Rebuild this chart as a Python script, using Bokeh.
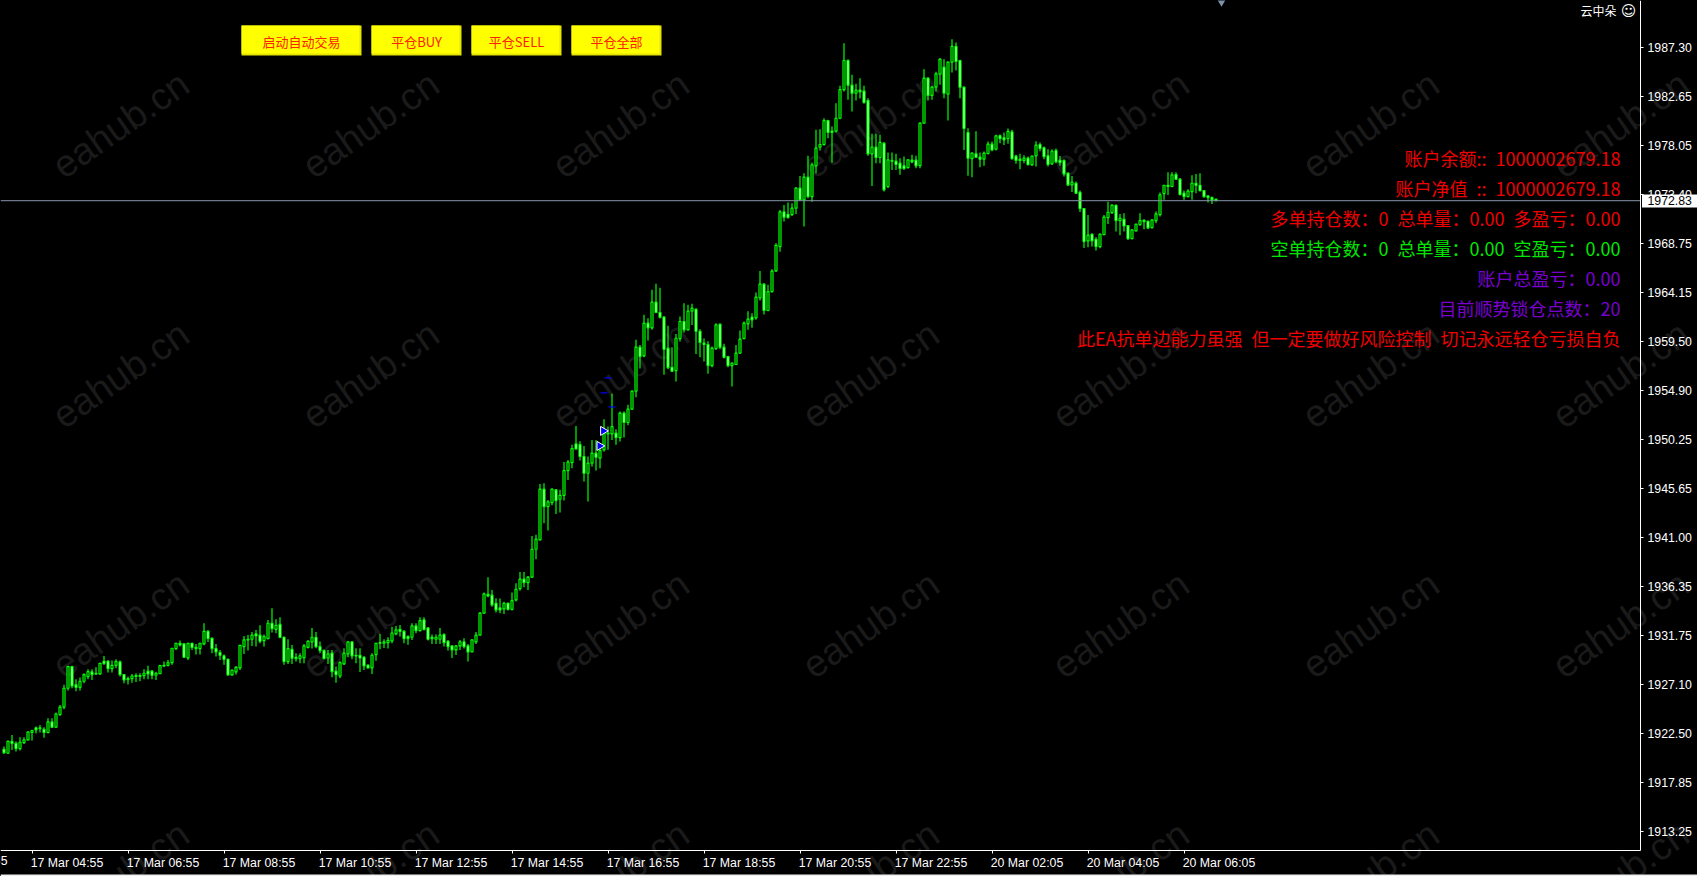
import math
from bokeh.plotting import figure
from bokeh.embed import file_html
from bokeh.resources import INLINE
from bokeh.models import (FixedTicker, Label, BoxAnnotation, ColumnDataSource,
                          NumeralTickFormatter, GlobalInlineStyleSheet)

highs = [
1921.27,1921.84,1922.37,1921.74,1922.15,1922.15,1922.75,1922.85,1923.16,1923.3,
1923.1,1923.94,1923.94,1924.48,1925.2,1927.1,1928.9,1928.9,1927.63,1927.8,
1928.2,1928.57,1928.57,1928.76,1929.2,1929.83,1929.46,1929.4,1929.52,1929.4,
1928.13,1927.88,1928.13,1928.2,1928.2,1928.57,1928.9,1928.51,1928.35,1929.01,
1929.3,1929.46,1930.59,1931.09,1931.28,1931.03,1931.09,1931.09,1930.97,1931.09,
1932.92,1932.29,1931.6,1930.97,1930.4,1929.96,1929.58,1928.57,1928.89,1930.9,
1931.72,1931.82,1932.1,1932.29,1932.73,1931.85,1933.23,1934.34,1933.3,1933.49,
1931.66,1931.41,1930.87,1930.09,1930.09,1930.97,1931.35,1932.48,1932.1,1931.19,
1930.46,1930.4,1930.4,1928.83,1929.33,1930.56,1931.22,1931.22,1930.56,1930.56,
1929.83,1929.08,1930.09,1931.09,1931.91,1931.41,1931.6,1932.6,1932.67,1932.76,
1932.29,1931.79,1932.92,1932.92,1933.49,1933.49,1932.54,1931.85,1931.85,1932.48,
1931.98,1931.35,1930.84,1930.87,1931.35,1931.5,1930.97,1931.41,1932.1,1933.99,
1935.82,1937.27,1936.07,1935.28,1935.25,1934.94,1934.87,1935.82,1936.7,1937.77,
1937.77,1937.39,1941.17,1941.27,1946.08,1946.15,1944.57,1945.64,1945.58,1945.52,
1948.16,1948.35,1949.77,1951.56,1950.11,1949.67,1948.67,1950.24,1950.24,1949.92,
1952.2,1951.5,1954.59,1951.25,1952.92,1952.92,1953.55,1954.9,1959.69,1959.21,
1962.05,1961.73,1964.41,1964.98,1964.6,1961.95,1961.01,1958.99,1960.25,1961.89,
1963.15,1963.0,1963.09,1962.68,1960.69,1959.81,1959.56,1959.06,1961.26,1961.2,
1959.31,1958.18,1957.55,1959.21,1960.57,1961.42,1962.4,1962.2,1964.16,1966.2,
1965.04,1964.88,1966.36,1968.81,1971.96,1972.43,1972.65,1972.59,1974.1,1975.17,
1975.43,1977.07,1976.44,1979.52,1979.59,1980.62,1980.47,1979.84,1982.04,1983.68,
1987.71,1986.2,1984.72,1983.87,1984.4,1983.68,1982.51,1979.15,1979.15,1979.05,
1978.33,1977.38,1977.38,1977.26,1976.85,1977.0,1976.75,1977.16,1977.07,1980.22,
1985.25,1984.5,1983.68,1985.0,1986.29,1986.2,1985.98,1988.09,1987.77,1986.14,
1983.62,1979.68,1977.38,1979.4,1977.38,1977.48,1978.42,1978.42,1979.05,1979.08,
1979.27,1979.65,1979.52,1977.16,1977.26,1977.13,1977.0,1977.07,1978.45,1978.33,
1977.95,1977.7,1977.7,1977.76,1977.06,1976.75,1975.49,1975.17,1974.64,1973.79,
1972.15,1971.49,1969.76,1969.38,1969.76,1971.49,1972.72,1972.53,1972.47,1971.58,
1971.65,1970.54,1970.14,1970.64,1971.65,1971.02,1970.95,1971.08,1971.8,1973.6,
1974.32,1975.52,1975.52,1975.52,1974.95,1973.79,1973.91,1975.24,1975.36,1975.43,
1973.85,1973.35,1973.22,1973.0]

lows = [
1920.58,1920.58,1920.95,1920.8,1920.89,1921.52,1921.84,1921.84,1922.5,1922.6,
1922.1,1922.5,1923.03,1923.03,1924.16,1924.8,1926.56,1926.78,1926.5,1926.56,
1927.25,1927.63,1927.57,1928.04,1928.04,1928.98,1928.26,1928.26,1928.67,1927.88,
1927.25,1927.13,1927.3,1927.38,1927.44,1927.63,1927.63,1927.63,1927.57,1928.13,
1928.76,1928.83,1929.01,1930.4,1930.72,1929.65,1929.46,1930.4,1929.96,1929.96,
1930.84,1931.16,1930.09,1929.77,1929.46,1929.01,1927.95,1927.95,1928.07,1928.51,
1930.02,1930.34,1930.78,1930.72,1931.03,1930.72,1931.41,1932.04,1931.98,1931.5,
1929.01,1929.08,1929.08,1929.3,1929.14,1929.14,1930.53,1930.53,1930.56,1930.09,
1929.52,1929.08,1927.82,1927.31,1927.72,1928.98,1929.71,1929.52,1929.14,1928.32,
1928.51,1928.64,1928.13,1929.39,1930.46,1930.59,1930.53,1931.03,1931.79,1931.66,
1931.03,1930.9,1931.35,1931.98,1932.13,1932.23,1931.28,1930.97,1930.97,1930.97,
1930.72,1930.34,1929.65,1929.93,1930.4,1930.53,1929.3,1930.21,1930.97,1931.79,
1933.8,1935.38,1934.49,1933.93,1933.86,1933.8,1934.12,1934.12,1934.97,1936.0,
1936.32,1936.07,1937.2,1938.97,1940.73,1942.37,1941.67,1944.07,1943.25,1943.37,
1944.51,1946.46,1947.56,1949.3,1948.29,1946.3,1944.41,1947.72,1947.34,1947.56,
1949.14,1949.3,1950.24,1949.77,1950.08,1950.46,1951.63,1953.07,1954.27,1956.98,
1958.05,1959.62,1960.63,1962.2,1961.7,1956.38,1956.92,1956.66,1955.75,1959.53,
1960.38,1960.57,1961.1,1958.36,1958.05,1957.64,1956.48,1957.1,1958.74,1958.8,
1957.92,1957.1,1955.28,1957.33,1958.36,1959.75,1960.63,1960.82,1961.58,1963.4,
1962.08,1962.4,1964.15,1966.1,1968.0,1970.86,1971.14,1971.39,1971.58,1972.84,
1970.39,1973.07,1972.72,1975.43,1977.57,1978.01,1978.74,1976.44,1979.27,1980.53,
1983.14,1982.36,1981.25,1982.29,1982.48,1981.98,1977.07,1974.23,1976.37,1976.37,
1973.7,1974.01,1975.74,1975.74,1975.27,1975.74,1975.87,1976.37,1975.9,1975.9,
1980.09,1982.29,1982.36,1983.14,1983.77,1982.51,1980.4,1984.94,1985.13,1982.51,
1977.63,1975.18,1975.05,1976.88,1976.0,1976.12,1977.19,1977.51,1977.57,1978.26,
1978.1,1978.2,1976.69,1976.31,1975.81,1976.37,1976.12,1976.12,1976.06,1977.51,
1976.75,1976.06,1976.22,1976.37,1976.12,1975.11,1974.23,1973.66,1973.47,1971.77,
1968.37,1968.44,1968.5,1968.12,1968.34,1969.57,1970.64,1971.58,1969.92,1969.57,
1969.92,1969.13,1969.19,1969.92,1970.45,1970.14,1970.14,1970.2,1970.7,1971.33,
1972.91,1973.38,1974.1,1974.8,1973.35,1972.91,1973.16,1972.91,1973.54,1973.69,
1973.1,1972.66,1972.53,1972.81]

opens = [
1921.02,1920.64,1921.77,1921.58,1921.08,1921.65,1921.9,1922.6,1923.03,1923.03,
1922.9,1922.6,1923.6,1923.1,1924.3,1925.0,1926.78,1928.83,1927.1,1926.87,
1927.44,1927.88,1928.32,1928.2,1928.13,1929.33,1929.33,1928.64,1928.95,1929.27,
1928.07,1927.69,1927.69,1927.91,1927.98,1927.98,1928.39,1928.39,1928.01,1928.16,
1928.89,1928.95,1929.2,1930.53,1931.03,1930.97,1929.65,1931.03,1930.65,1930.53,
1930.97,1932.16,1931.5,1930.53,1930.15,1929.83,1929.52,1928.04,1928.32,1928.7,
1930.72,1931.41,1931.41,1931.91,1931.79,1931.28,1931.47,1932.92,1932.35,1932.82,
1931.6,1929.3,1930.46,1929.71,1929.58,1929.68,1930.65,1931.16,1931.6,1930.72,
1930.34,1929.64,1930.09,1928.39,1927.94,1929.08,1930.02,1931.16,1929.9,1929.9,
1929.71,1928.95,1928.7,1929.96,1931.09,1931.03,1931.09,1931.25,1931.91,1932.35,
1932.16,1931.66,1931.6,1932.67,1932.22,1933.23,1932.48,1931.6,1931.41,1931.41,
1931.85,1931.22,1930.78,1930.4,1930.78,1931.16,1930.78,1930.21,1931.16,1931.79,
1933.87,1935.66,1935.57,1934.81,1934.37,1934.27,1934.81,1934.24,1935.12,1936.2,
1937.08,1936.76,1937.27,1939.91,1940.79,1945.58,1943.94,1944.32,1945.52,1944.63,
1945.0,1947.34,1948.1,1949.86,1949.8,1948.67,1947.09,1948.04,1948.98,1948.51,
1949.29,1950.8,1950.8,1950.87,1950.46,1952.76,1951.88,1953.14,1954.84,1959.0,
1958.18,1961.26,1960.82,1963.25,1962.27,1961.83,1958.9,1957.1,1956.79,1959.81,
1961.42,1960.63,1962.4,1962.58,1960.5,1959.37,1959.25,1957.26,1958.87,1961.17,
1959.0,1958.11,1957.26,1957.36,1958.43,1959.81,1961.2,1961.83,1961.77,1963.65,
1964.95,1962.46,1964.25,1966.2,1968.5,1971.77,1971.55,1971.52,1972.12,1974.01,
1972.9,1975.05,1973.22,1976.12,1977.89,1978.14,1980.4,1979.4,1979.4,1980.62,
1983.33,1986.07,1983.74,1982.99,1983.27,1983.18,1982.29,1977.26,1977.89,1976.91,
1978.26,1974.17,1976.63,1976.56,1976.37,1976.12,1975.96,1976.66,1976.66,1976.15,
1980.15,1984.4,1982.77,1983.55,1984.78,1985.44,1982.89,1985.92,1987.4,1986.07,
1983.55,1979.27,1976.81,1977.26,1976.94,1976.75,1977.29,1978.17,1977.7,1978.96,
1978.77,1978.7,1979.33,1977.04,1976.75,1976.63,1976.85,1976.22,1977.07,1978.14,
1977.82,1977.07,1976.31,1977.57,1976.65,1976.62,1975.43,1974.32,1974.48,1973.63,
1972.09,1969.03,1969.66,1969.19,1968.5,1969.63,1971.24,1971.71,1972.4,1970.95,
1971.08,1970.48,1969.25,1969.98,1970.58,1970.99,1970.89,1970.29,1970.95,1971.52,
1973.5,1974.29,1974.17,1975.3,1974.86,1973.54,1973.22,1973.69,1974.48,1974.29,
1973.79,1973.28,1973.13,1972.97]

closes = [
1920.7,1921.77,1921.58,1921.08,1921.68,1921.9,1922.65,1922.78,1922.85,1922.97,
1922.6,1923.6,1923.1,1924.35,1925.0,1926.78,1928.83,1927.0,1926.87,1927.44,
1928.07,1928.35,1928.07,1928.13,1929.14,1929.14,1928.64,1928.95,1929.3,1928.07,
1927.57,1927.6,1927.94,1927.98,1927.91,1928.2,1928.13,1928.01,1928.2,1928.92,
1928.95,1929.2,1930.56,1931.03,1930.87,1929.71,1931.03,1930.65,1930.53,1931.03,
1932.16,1931.47,1930.53,1930.21,1929.9,1929.52,1928.04,1928.48,1928.76,1930.84,
1931.35,1931.35,1931.79,1931.72,1931.22,1931.66,1932.92,1932.42,1932.73,1931.6,
1929.3,1930.53,1929.62,1929.58,1929.83,1930.78,1931.22,1931.6,1930.72,1930.34,
1929.58,1930.02,1928.35,1928.07,1929.2,1930.09,1931.16,1929.83,1929.83,1929.64,
1928.89,1928.7,1929.9,1931.03,1931.03,1931.16,1931.31,1932.0,1932.29,1932.16,
1931.47,1931.47,1932.67,1932.22,1933.17,1932.35,1931.41,1931.47,1931.6,1931.79,
1931.09,1930.72,1930.4,1930.78,1931.16,1930.72,1930.21,1931.35,1931.79,1933.87,
1935.69,1935.5,1934.65,1934.18,1934.18,1934.81,1934.24,1935.06,1936.13,1937.08,
1936.76,1937.27,1939.91,1940.86,1945.58,1943.94,1944.38,1945.58,1944.51,1945.0,
1947.34,1948.13,1949.42,1949.39,1948.67,1947.09,1948.04,1948.98,1948.6,1949.23,
1950.87,1950.87,1951.5,1950.46,1952.76,1951.88,1953.14,1954.84,1959.0,1958.11,
1961.26,1960.82,1963.25,1962.27,1961.83,1958.8,1957.07,1956.73,1959.84,1961.42,
1960.63,1962.4,1962.68,1960.5,1959.44,1959.25,1957.26,1958.9,1961.1,1959.0,
1958.05,1957.26,1957.48,1958.43,1959.75,1961.26,1961.64,1961.58,1963.72,1964.95,
1962.46,1964.25,1966.17,1968.62,1971.77,1971.27,1971.24,1972.12,1974.01,1972.9,
1975.05,1973.22,1976.22,1977.79,1978.14,1980.4,1979.27,1979.27,1980.62,1983.33,
1986.07,1983.74,1982.99,1983.27,1983.11,1982.11,1977.26,1977.89,1976.91,1978.33,
1973.86,1976.69,1976.56,1976.25,1975.87,1975.87,1976.69,1976.5,1976.12,1980.15,
1984.4,1982.77,1983.55,1984.81,1986.2,1982.99,1985.92,1987.4,1985.98,1983.55,
1979.65,1976.85,1977.32,1976.94,1976.75,1977.32,1978.17,1977.63,1978.96,1978.7,
1978.58,1979.37,1976.81,1976.63,1976.63,1976.85,1976.25,1977.04,1978.07,1977.76,
1977.0,1976.25,1977.5,1976.5,1976.43,1975.36,1974.32,1974.58,1973.54,1972.09,
1968.97,1969.57,1969.03,1968.5,1969.66,1971.27,1971.74,1972.4,1970.95,1971.17,
1970.45,1969.25,1970.07,1970.61,1970.95,1970.86,1970.26,1971.02,1971.58,1973.38,
1974.29,1974.17,1975.27,1974.86,1973.41,1973.22,1973.73,1974.48,1974.29,1973.79,
1973.22,1973.13,1972.91,1972.84]

price_ticks = [1913.25,1917.85,1922.50,1927.10,1931.75,1936.35,1941.00,1945.65,1950.25,
               1954.90,1959.50,1964.15,1968.75,1973.40,1978.05,1982.65,1987.30]
time_tick_bars = [7,31,55,79,103,127,151,175,199,223,247,271,295]
time_labels = ["17 Mar 04:55","17 Mar 06:55","17 Mar 08:55","17 Mar 10:55","17 Mar 12:55",
               "17 Mar 14:55","17 Mar 16:55","17 Mar 18:55","17 Mar 20:55","17 Mar 22:55",
               "20 Mar 02:05","20 Mar 04:05","20 Mar 06:05"]
first_time_label = "17 Mar 02:55"
current_price = 1972.83
trade_bars = [148.9, 149.8]
trade_prices = [1949.67, 1951.09]
stop_bars = [150, 151, 152]
stop_prices = [1954.68, 1956.09, 1953.35]
button_labels = ["启动自动交易", "平仓BUY", "平仓SELL", "平仓全部"]
EN = "\u2002"
info_lines = [
    (f"账户余额::{EN}1000002679.18", "#f00000"),
    (f"账户净值{EN}::{EN}1000002679.18", "#f00000"),
    (f"多单持仓数：0{EN}总单量：0.00{EN}多盈亏：0.00", "#f00000"),
    (f"空单持仓数：0{EN}总单量：0.00{EN}空盈亏：0.00", "#00e600"),
    ("账户总盈亏：0.00", "#7a00d0"),
    ("目前顺势锁仓点数：20", "#7a00d0"),
    (f"此EA抗单边能力虽强{EN}但一定要做好风险控制{EN}切记永远轻仓亏损自负", "#f00000"),
]
watermark = "eahub.cn"

W, H = 1697, 876
AXIS_R, AXIS_B = 1640, 850
# page pixel -> frame "screen" units; the frame fills the whole page
def sy(r): return H - r
def dx(r): return (r - 3.5) / 4          # bar index at page x
def dy(r): return 1987.30 - (r - 47.0) * 0.09445   # price at page y

CJK = "Noto Sans CJK SC"
LAT = "Liberation Sans"

p = figure(width=W, height=H, frame_width=W, frame_height=H,
           output_backend="svg", toolbar_location=None, y_axis_location="right",
           x_range=(dx(0), dx(W)), y_range=(dy(H), dy(0)),
           background_fill_color="black", border_fill_color="black",
           min_border_left=0, min_border_top=0, min_border_right=0, min_border_bottom=0,
           outline_line_color=None)
p.stylesheets = [GlobalInlineStyleSheet(css="html,body{background:#000;margin:0;overflow:hidden}")]
p.grid.visible = False

ya = p.yaxis[0]
ya.fixed_location = dx(AXIS_R)
ya.bounds = (dy(AXIS_B), dy(0))
ya.ticker = FixedTicker(ticks=price_ticks)
ya.formatter = NumeralTickFormatter(format="0.00")
ya.axis_line_color = "white"
ya.major_tick_line_color = "white"
ya.major_tick_in = 0
ya.major_tick_out = 3
ya.minor_tick_line_color = None
ya.major_label_standoff = 4
ya.major_label_text_color = "white"
ya.major_label_text_font = LAT
ya.major_label_text_font_size = "12.3px"

label_bars = [b + 8.75 for b in time_tick_bars]
xa = p.xaxis[0]
xa.fixed_location = dy(AXIS_B)
xa.bounds = (dx(0), dx(AXIS_R))
xa.ticker = FixedTicker(ticks=label_bars, minor_ticks=time_tick_bars)
xa.major_label_overrides = dict(zip(label_bars, time_labels))
xa.axis_line_color = "white"
xa.major_tick_line_color = None
xa.major_tick_in = 0
xa.major_tick_out = 0
xa.minor_tick_line_color = "white"
xa.minor_tick_in = 0
xa.minor_tick_out = 3
xa.major_label_standoff = 2
xa.major_label_text_color = "white"
xa.major_label_text_font = LAT
xa.major_label_text_font_size = "12.3px"

# watermark
for cx in [120, 370, 620, 870, 1120, 1370, 1620]:
    for cy in [124, 374, 624, 874]:
        p.add_layout(Label(x=cx, y=sy(cy), x_units="screen", y_units="screen", text=watermark,
                           angle=35, angle_units="deg", text_align="center", text_baseline="middle",
                           text_font=LAT, text_font_size="38px", text_color="#1a1a1a",
                           level="underlay"))

# candles
idx = list(range(len(closes)))
fills = ["white" if c < o else "black" for o, c in zip(opens, closes)]
src = ColumnDataSource(dict(x=idx, high=highs, low=lows,
                            top=[max(o, c) for o, c in zip(opens, closes)],
                            bottom=[min(o, c) for o, c in zip(opens, closes)], fill=fills))
p.segment("x", "high", "x", "low", source=src, line_color="#00ff00", line_width=1.2)
p.vbar(x="x", top="top", bottom="bottom", width=0.5, source=src, fill_color="fill",
       line_color="#00ff00", line_width=1.2)

# current price
p.segment([dx(0)], [current_price], [dx(AXIS_R)], [current_price], line_color="#8795a8", line_width=1)
p.add_layout(BoxAnnotation(left=1641.5, right=W, top=sy(194), bottom=sy(207), left_units="screen",
                           right_units="screen", top_units="screen", bottom_units="screen",
                           fill_color="white", fill_alpha=1, line_color=None, level="overlay"))
p.add_layout(Label(x=1647, y=sy(200), x_units="screen", y_units="screen",
                   text=f"{current_price:.2f}", text_color="black", text_font=LAT,
                   text_font_size="12.3px", text_baseline="middle", text_align="left",
                   level="overlay"))

# trade marks
p.scatter(stop_bars, stop_prices, marker="dash", size=7, line_color="#0000ff", line_width=1.2)
p.scatter(trade_bars, trade_prices, marker="triangle", angle=-math.pi/2, size=9,
          fill_color="#0000ff", line_color="white", line_width=1)
# chart-shift marker at the top edge
p.scatter([dx(1221)], [dy(0)], marker="inverted_triangle", size=11, fill_color="#7f93ad", line_color=None)

# label of the tick that runs off the left edge
p.add_layout(Label(x=7, y=sy(860), x_units="screen", y_units="screen", text=first_time_label,
                   text_color="white", text_font=LAT, text_font_size="12.3px",
                   text_align="right", text_baseline="middle"))
# pale strip along the bottom edge
p.add_layout(BoxAnnotation(left=0, right=W, top=sy(874), bottom=0, left_units="screen",
                           right_units="screen", top_units="screen", bottom_units="screen",
                           fill_color="#f0f0f0", fill_alpha=1, line_color=None))

# buttons
for (l, r), txt in zip([(241, 361), (371, 461), (471, 561), (571, 661)], button_labels):
    p.add_layout(BoxAnnotation(left=l, right=r, top=sy(25), bottom=sy(55),
                               left_units="screen", right_units="screen", top_units="screen",
                               bottom_units="screen", fill_color="#e4e400", fill_alpha=1,
                               line_color=None, level="overlay"))
    p.add_layout(BoxAnnotation(left=l, right=r-2, top=sy(25), bottom=sy(53),
                               left_units="screen", right_units="screen", top_units="screen",
                               bottom_units="screen", fill_color="#ffff00", fill_alpha=1,
                               line_color=None, level="overlay"))
    p.add_layout(Label(x=(l+r)/2, y=sy(41), x_units="screen", y_units="screen", text=txt,
                       text_color="#ff2000", text_font=CJK, text_font_size="13px",
                       text_align="center", text_baseline="middle", level="overlay"))

# account info
for k, (txt, col) in enumerate(info_lines):
    p.add_layout(Label(x=1620, y=sy(157.3 + 30*k), x_units="screen", y_units="screen", text=txt,
                       text_color=col, text_font=CJK, text_font_size="18px",
                       text_align="right", text_baseline="middle"))

# user name
p.add_layout(Label(x=1616, y=sy(10), x_units="screen", y_units="screen", text="云中朵",
                   text_color="white", text_font=CJK, text_font_size="12px",
                   text_align="right", text_baseline="middle"))
p.add_layout(Label(x=1628, y=sy(10), x_units="screen", y_units="screen", text="☺",
                   text_color="white", text_font="DejaVu Sans", text_font_size="15px",
                   text_align="center", text_baseline="middle"))

open("out.html", "w", encoding="utf-8").write(file_html(p, INLINE))
